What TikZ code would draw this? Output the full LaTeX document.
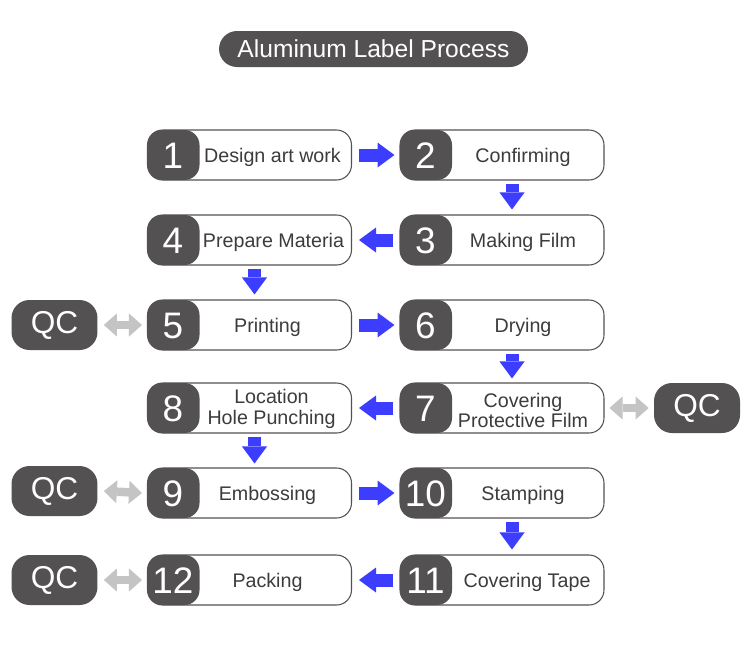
\documentclass[tikz,border=0pt]{standalone}
\usepackage{fontspec}
\setmainfont{Liberation Sans}
\usetikzlibrary{arrows.meta,calc,positioning}
\definecolor{boxdark}{HTML}{545152}
\definecolor{flowblue}{HTML}{3D3DFF}
\definecolor{qcgrey}{HTML}{C4C4C4}
\definecolor{labelgrey}{HTML}{3C3C3C}

\begin{document}
\begin{tikzpicture}[
    x=0.02cm, y=-0.02cm,
    stepbox/.style   = {rectangle, rounded corners=0.3cm, draw=boxdark,
                        line width=0.6pt, fill=white, inner sep=0pt,
                        minimum width=4.08cm, minimum height=1cm,
                        path picture={\fill[boxdark]
                          (path picture bounding box.south west) rectangle
                          ([xshift=1.04cm]path picture bounding box.north west);}},
    numtext/.style   = {text=white, inner sep=0pt, font=\fontsize{21}{21}\selectfont},
    steptext/.style  = {text=labelgrey, inner sep=0pt, align=center,
                        font=\fontsize{11.2}{11.5}\selectfont},
    qcbox/.style     = {rectangle, rounded corners=0.36cm, fill=boxdark,
                        text=white, font=\fontsize{18}{18}\selectfont,
                        minimum width=1.72cm, minimum height=1cm},
    titlebox/.style  = {rectangle, rounded corners=0.36cm, fill=boxdark,
                        text=white, font=\fontsize{14}{14}\selectfont,
                        minimum width=6.18cm, minimum height=0.72cm},
    flow/.style      = {flowblue, line width=0.26cm,
                        -{Triangle[length=0.34cm, width=0.5cm, line width=0pt]}},
    qcflow/.style    = {qcgrey, line width=0.17cm,
                        {Triangle[length=0.26cm, width=0.46cm, line width=0pt]}-%
                        {Triangle[length=0.26cm, width=0.46cm, line width=0pt]}},
]

\path[use as bounding box, fill=white] (0,0) rectangle (750,657);

%% ── Title ────────────────────────────────────────────────────────────────────
\node[titlebox] (title) at (373.5, 49) {Aluminum Label Process};

%% ── Left column: x = 249.5 ───────────────────────────────────────────────────
\node[stepbox] (s1)  at (249.5, 155) {};
\node[stepbox] (s4)  at (249.5, 240) {};
\node[stepbox] (s5)  at (249.5, 325) {};
\node[stepbox] (s8)  at (249.5, 408) {};
\node[stepbox] (s9)  at (249.5, 493) {};
\node[stepbox] (s12) at (249.5, 580) {};

%% ── Right column: x = 502 ────────────────────────────────────────────────────
\node[stepbox] (s2)  at (502, 155) {};
\node[stepbox] (s3)  at (502, 240) {};
\node[stepbox] (s6)  at (502, 325) {};
\node[stepbox] (s7)  at (502, 408) {};
\node[stepbox] (s10) at (502, 493) {};
\node[stepbox] (s11) at (502, 580) {};

%% ── Step numbers ─────────────────────────────────────────────────────────────
\node[numtext] (n1)  at ($(s1.west)  + (26,1)$) {1};
\node[numtext] (n2)  at ($(s2.west)  + (26,1)$) {2};
\node[numtext] (n3)  at ($(s3.west)  + (26,1)$) {3};
\node[numtext] (n4)  at ($(s4.west)  + (26,1)$) {4};
\node[numtext] (n5)  at ($(s5.west)  + (26,1)$) {5};
\node[numtext] (n6)  at ($(s6.west)  + (26,1)$) {6};
\node[numtext] (n7)  at ($(s7.west)  + (26,1)$) {7};
\node[numtext] (n8)  at ($(s8.west)  + (26,1)$) {8};
\node[numtext] (n9)  at ($(s9.west)  + (26,1)$) {9};
\node[numtext] (n10) at ($(s10.west) + (26,1)$) {10};
\node[numtext] (n11) at ($(s11.west) + (26,1)$) {11};
\node[numtext] (n12) at ($(s12.west) + (26,1)$) {12};

%% ── Step labels ──────────────────────────────────────────────────────────────
\node[steptext] (t1)  at ($(s1.center)  + (23,2.5)$) {Design art work};
\node[steptext] (t2)  at ($(s2.center)  + (21,2.5)$) {Confirming};
\node[steptext] (t3)  at ($(s3.center)  + (21,2.5)$) {Making Film};
\node[steptext] (t4)  at ($(s4.center)  + (24,2.5)$) {Prepare Materia};
\node[steptext] (t5)  at ($(s5.center)  + (18,2.5)$) {Printing};
\node[steptext] (t6)  at ($(s6.center)  + (21,2.5)$) {Drying};
\node[steptext] (t7)  at ($(s7.center)  + (21,2.5)$) {Covering\\Protective Film};
\node[steptext] (t8)  at ($(s8.center)  + (22,1)$)   {Location\\Hole Punching};
\node[steptext] (t9)  at ($(s9.center)  + (18,2.5)$) {Embossing};
\node[steptext] (t10) at ($(s10.center) + (21,2.5)$) {Stamping};
\node[steptext] (t11) at ($(s11.center) + (25,2.5)$) {Covering Tape};
\node[steptext] (t12) at ($(s12.center) + (18,2.5)$) {Packing};

%% ── QC boxes ─────────────────────────────────────────────────────────────────
\node[qcbox] (qc5)  at (54.5, 325)  {QC};
\node[qcbox] (qc7)  at (697, 408)   {QC};
\node[qcbox] (qc9)  at (54.5, 491)  {QC};
\node[qcbox] (qc12) at (54.5, 580)  {QC};

%% ── Flow arrows (snake order) ───────────────────────────────────────────────
\draw[flow] ($(s1.east)   + (7,0)$)   -- ($(s2.west)   + (-5,0)$);
\draw[flow] ($(s2.south)  + (10,3)$)  -- ($(s3.north)  + (10,-5)$);
\draw[flow] ($(s3.west)   + (-6,0)$)  -- ($(s4.east)   + (7,0)$);
\draw[flow] ($(s4.south)  + (5,3)$)   -- ($(s5.north)  + (5,-5)$);
\draw[flow] ($(s5.east)   + (7,0)$)   -- ($(s6.west)   + (-5,0)$);
\draw[flow] ($(s6.south)  + (10,3)$)  -- ($(s7.north)  + (10,-4)$);
\draw[flow] ($(s7.west)   + (-6,0)$)  -- ($(s8.east)   + (7,0)$);
\draw[flow] ($(s8.south)  + (5,3)$)   -- ($(s9.north)  + (5,-4)$);
\draw[flow] ($(s9.east)   + (7,0)$)   -- ($(s10.west)  + (-5,0)$);
\draw[flow] ($(s10.south) + (10,3)$)  -- ($(s11.north) + (10,-5)$);
\draw[flow] ($(s11.west)  + (-6,0)$)  -- ($(s12.east)  + (7,0)$);

%% ── QC links ─────────────────────────────────────────────────────────────────
\draw[qcflow] ($(qc5.east)  + (6,0)$)  -- ($(s5.west)  + (-5,0)$);
\draw[qcflow] ($(s7.east)   + (5,0)$)  -- ($(qc7.west) + (-5,0)$);
\draw[qcflow] ($(qc9.east)  + (6,0)$)  -- ($(s9.west)  + (-5,0)$);
\draw[qcflow] ($(qc12.east) + (6,0)$)  -- ($(s12.west) + (-5,0)$);

\end{tikzpicture}
\end{document}
